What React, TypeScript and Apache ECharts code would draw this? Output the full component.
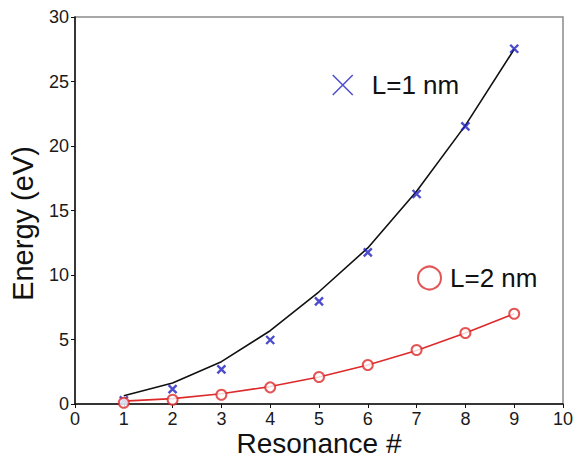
import React, { useEffect, useRef } from "react";
import * as echarts from "echarts";

const resonance = [1, 2, 3, 4, 5, 6, 7, 8, 9];
const l1Measured = [0.28, 1.16, 2.68, 4.96, 7.95, 11.75, 16.28, 21.52, 27.54];
const l1Fit = [0.64, 1.63, 3.28, 5.68, 8.7, 12.1, 16.5, 21.6, 27.5];
const l2Measured = [0.1, 0.33, 0.72, 1.29, 2.09, 3.02, 4.19, 5.5, 7.0];
const l2Fit = [0.22, 0.42, 0.8, 1.35, 2.1, 3.02, 4.15, 5.5, 7.0];
const xTicks = [0, 1, 2, 3, 4, 5, 6, 7, 8, 9, 10];
const yTicks = [0, 5, 10, 15, 20, 25, 30];

const FONT = "'Liberation Sans', Arial, sans-serif";
const BLUE = "#1f1fc0";
const RED = "#dd2a2a";
const CROSS = "path://M0,0L10,10M10,0L0,10";

const pair = (ys: number[]) => resonance.map((x, i) => [x, ys[i]]);

export default function App() {
  const ref = useRef<HTMLDivElement>(null);
  useEffect(() => {
    if (!ref.current) return;
    const chart = echarts.init(ref.current, null, { renderer: "svg" });
    chart.setOption({
      animation: false,
      backgroundColor: "#ffffff",
      textStyle: { fontFamily: FONT },
      grid: {
        left: 75,
        right: 17,
        top: 17,
        bottom: 55,
        containLabel: false,
        outerBoundsMode: "none",
        show: true,
        borderColor: "#8a8a8a",
        borderWidth: 1.5,
      },
      legend: [
        {
          data: ["L=1 nm"],
          left: 332,
          top: 72,
          padding: 0,
          itemWidth: 22,
          itemHeight: 20,
          itemStyle: { borderWidth: 1.5 },
          textStyle: { fontSize: 26, color: "#111", fontFamily: FONT, padding: [0, 0, 0, 13] },
          selectedMode: false,
        },
        {
          data: ["L=2 nm"],
          left: 417,
          top: 265,
          padding: 0,
          itemWidth: 23,
          itemHeight: 23,
          itemStyle: { borderWidth: 2 },
          textStyle: { fontSize: 26, color: "#111", fontFamily: FONT, padding: [0, 0, 0, 4] },
          selectedMode: false,
        },
      ],
      xAxis: {
        type: "value",
        min: xTicks[0],
        max: xTicks[xTicks.length - 1],
        interval: 1,
        name: "Resonance #",
        nameLocation: "middle",
        nameGap: 25,
        nameMoveOverlap: false,
        nameTextStyle: { fontSize: 28, lineHeight: 28, color: "#111", fontFamily: FONT },
        axisLine: { show: true, onZero: false, lineStyle: { color: "#111", width: 1.5 } },
        axisTick: { show: true, inside: false, length: 4, lineStyle: { color: "#111" } },
        axisLabel: { fontSize: 18, color: "#1a1a1a", margin: 6, fontFamily: FONT },
        splitLine: { show: false },
      },
      yAxis: {
        type: "value",
        min: yTicks[0],
        max: yTicks[yTicks.length - 1],
        interval: 5,
        name: "Energy (eV)",
        nameLocation: "middle",
        nameGap: 38,
        nameTextStyle: { fontSize: 29, color: "#111", fontFamily: FONT, padding: [0, 26, 0, 0] },
        axisLine: { show: true, onZero: false, lineStyle: { color: "#111", width: 1.5 } },
        axisTick: { show: true, inside: false, length: 4, lineStyle: { color: "#111" } },
        axisLabel: { fontSize: 18, color: "#1a1a1a", margin: 6, fontFamily: FONT },
        splitLine: { show: false },
      },
      series: [
        {
          name: "L=1 nm fit",
          type: "line",
          data: pair(l1Fit),
          showSymbol: false,
          symbol: "none",
          lineStyle: { color: "#111", width: 1.6 },
          z: 2,
        },
        {
          name: "L=2 nm fit",
          type: "line",
          data: pair(l2Fit),
          showSymbol: false,
          symbol: "none",
          lineStyle: { color: RED, width: 1.6 },
          z: 2,
        },
        {
          name: "L=1 nm",
          type: "scatter",
          data: pair(l1Measured),
          symbol: CROSS,
          symbolSize: 8,
          itemStyle: { color: BLUE, borderColor: BLUE, borderWidth: 2.4 },
          z: 3,
        },
        {
          name: "L=2 nm",
          type: "scatter",
          data: pair(l2Measured),
          symbol: "emptyCircle",
          symbolSize: 10,
          itemStyle: { color: RED, borderColor: RED, borderWidth: 1 },
          z: 3,
        },
      ],
    });
    return () => chart.dispose();
  }, []);
  return (
    <div
      ref={ref}
      style={{ position: "fixed", left: 0, top: 0, width: 580, height: 459, background: "#fff" }}
    />
  );
}
